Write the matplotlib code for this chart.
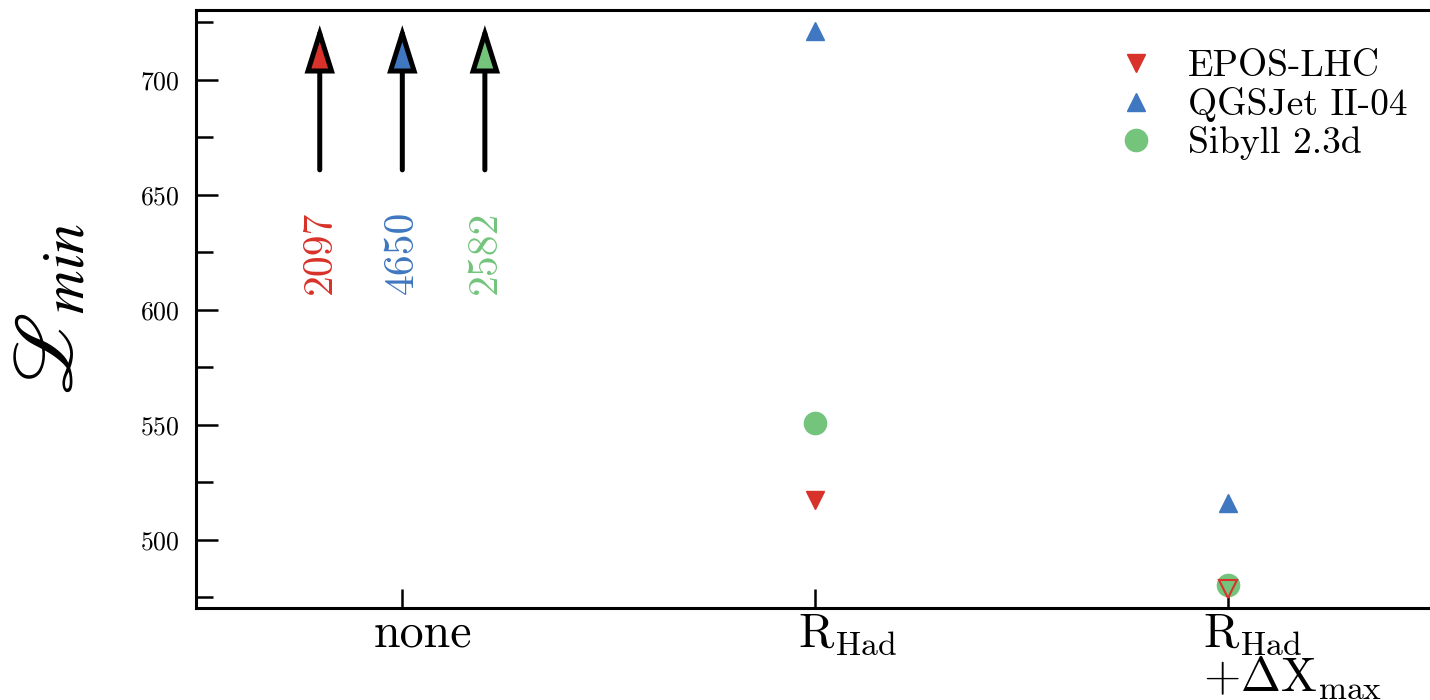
import matplotlib
matplotlib.use("Agg")
import matplotlib.pyplot as plt
from matplotlib.patches import FancyArrowPatch
from matplotlib.transforms import ScaledTranslation
import numpy as np

plt.rcParams["font.family"] = ["cmr10", "DejaVu Serif"]
plt.rcParams["mathtext.fontset"] = "cm"
plt.rcParams["axes.formatter.use_mathtext"] = True

# Fit setups (x categories)
setups = ["none", r"$\mathrm{R}_{\mathrm{Had}}$",
          "$\\mathrm{R}_{\\mathrm{Had}}$\n$+\\Delta\\mathrm{X}_{\\mathrm{max}}$"]

models = ["EPOS-LHC", "QGSJet II-04", "Sibyll 2.3d"]
colors = ["#d8322a", "#3f77c0", "#74c47c"]
markers = ["v", "^", "o"]
sizes = [13, 13, 16]

# Minimum likelihood per model and setup
epos = [2097, 517.4, 478.5]
qgsjet = [4650, 721.3, 516.1]
sibyll = [2582, 550.9, 480.5]
values = [epos, qgsjet, sibyll]

ymin, ymax = 470.4, 730.4

fig = plt.figure(figsize=(14.3, 7), dpi=100)
ax = fig.add_axes([0.137, 0.1314, 0.866, 0.8543])

x = np.arange(len(setups))
for name, vals, c, m, s in zip(models, values, colors, markers, sizes):
    vals = np.asarray(vals, dtype=float)
    inside = vals <= ymax
    if name == "EPOS-LHC":
        # last point sits under the Sibyll marker: draw it open on top
        ax.plot(x[inside][:1], vals[inside][:1], ls="none", marker=m, ms=s,
                color=c, mec=c, label=name, zorder=3)
        ax.plot(x[inside][1:], vals[inside][1:], ls="none", marker=m, ms=s,
                mfc="none", mec=c, mew=1.5, zorder=5)
    else:
        ax.plot(x[inside], vals[inside], ls="none", marker=m, ms=s,
                color=c, mec=c, label=name, zorder=4 if m == "o" else 3)

# Off-scale values for the unconstrained fit: arrows with labels
offsets = [-0.2, 0.0, 0.2]
for vals, c, dx in zip(values, colors, offsets):
    if vals[0] > ymax:
        arr = FancyArrowPatch((0 + dx, 660.9), (0 + dx, 723.8),
                              arrowstyle="-|>,head_length=2.7,head_width=0.85",
                              mutation_scale=10, lw=3.6, ec="black", fc=c,
                              shrinkA=0, shrinkB=0, joinstyle="miter",
                              zorder=3)
        ax.add_patch(arr)
        ax.text(0 + dx, 625.2, f"{vals[0]:d}", rotation=90, ha="center",
                va="center", color=c, fontsize=30)

ax.set_xlim(-0.5, 2.5)
ax.set_ylim(ymin, ymax)
ax.set_xticks(x)
ax.set_xticklabels([])

# category labels, left-aligned just left of each tick
label_shift = [-29, -17, -25]
for xi, txt, dxp in zip(x, setups, label_shift):
    tr = ax.get_xaxis_transform() + ScaledTranslation(
        dxp / 100, -3 / 72, fig.dpi_scale_trans)
    ax.text(xi, 0, txt, transform=tr, ha="left", va="top",
            multialignment="left", fontsize=34.5, linespacing=0.95)

ax.set_yticks(np.arange(500, 701, 50))
ax.set_yticks(np.arange(475, 730, 50), minor=True)
ax.tick_params(axis="y", which="major", direction="in", length=16, width=1.8,
               labelsize=18.5, pad=12)
ax.tick_params(axis="y", which="minor", direction="in", length=12, width=1.8)
ax.tick_params(axis="x", which="major", direction="in", length=14, width=1.8,
               pad=3)
ax.tick_params(axis="x", which="minor", bottom=False)
for sp in ax.spines.values():
    sp.set_linewidth(2.2)

ax.set_ylabel(r"$\mathscr{L}_{min}$", fontsize=62, math_fontfamily="stix",
              labelpad=36)

leg = ax.legend(loc="upper left", bbox_to_anchor=(1117 / 1430, 1 - 50 / 700),
                bbox_transform=fig.transFigure, frameon=False, fontsize=27,
                handlelength=1.0, handletextpad=0.9, labelspacing=0.1,
                borderpad=0, borderaxespad=0)

fig.savefig("out.png", dpi=100)
